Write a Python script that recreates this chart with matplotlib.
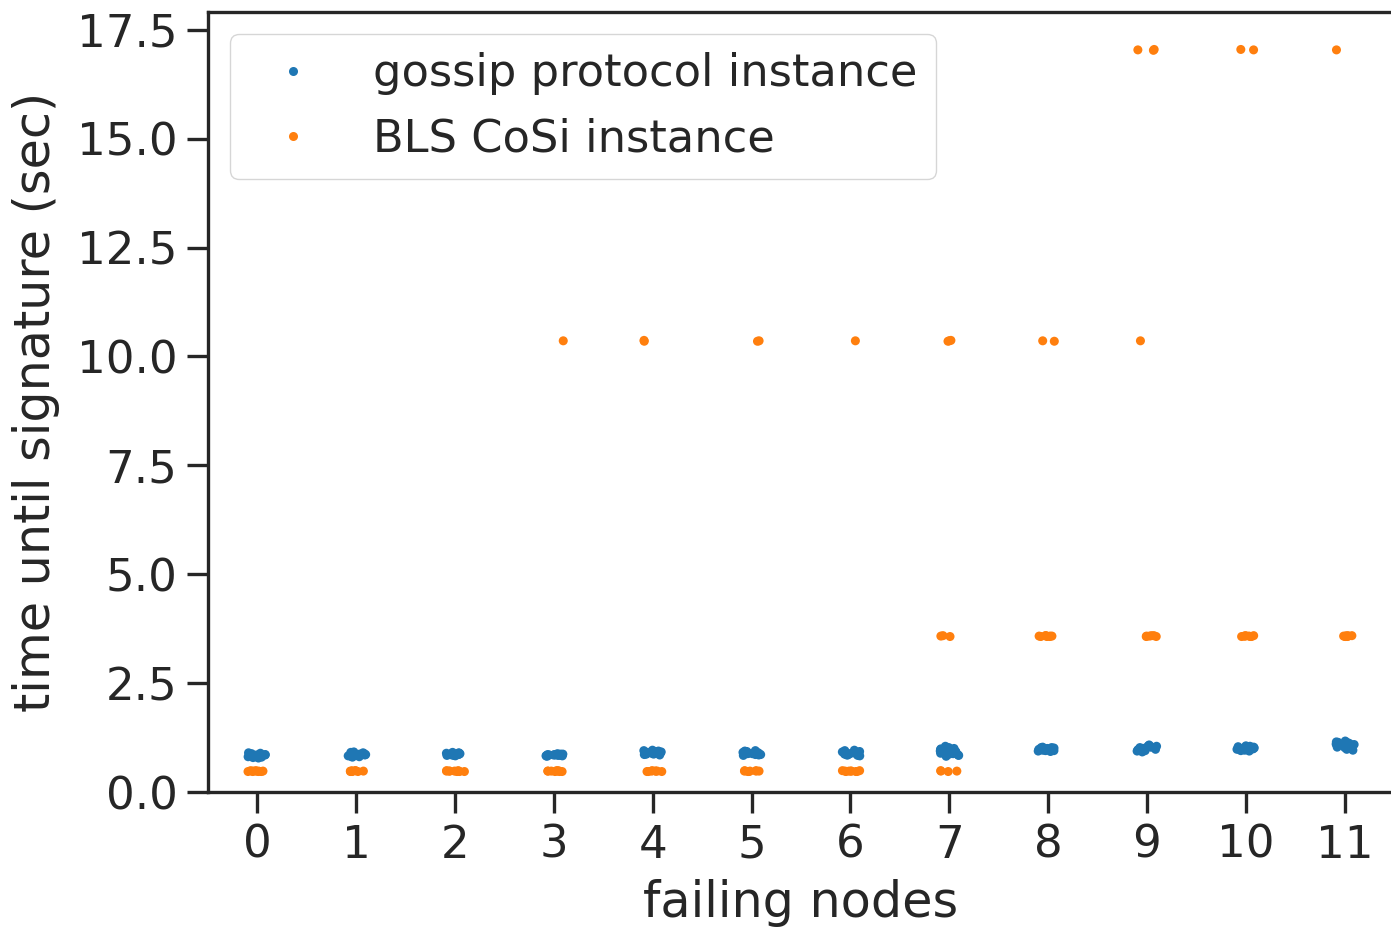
import numpy as np
import pandas as pd
import matplotlib
matplotlib.use("Agg")
import matplotlib.pyplot as plt
import seaborn as sns

# ---------------- data ----------------
failing_nodes = list(range(12))

gossip_times = [
    [0.78, 0.80, 0.82, 0.84, 0.85, 0.86, 0.87, 0.88, 0.90, 0.83, 0.81, 0.85, 0.89, 0.79, 0.86, 0.84],
    [0.80, 0.82, 0.84, 0.85, 0.86, 0.87, 0.88, 0.90, 0.92, 0.83, 0.81, 0.86, 0.89, 0.91, 0.84, 0.87],
    [0.83, 0.84, 0.85, 0.86, 0.87, 0.88, 0.89, 0.90, 0.91, 0.86, 0.85, 0.87, 0.88, 0.84, 0.89, 0.86],
    [0.82, 0.83, 0.84, 0.85, 0.86, 0.87, 0.88, 0.86, 0.84, 0.85, 0.83, 0.87, 0.86, 0.85, 0.84, 0.86],
    [0.85, 0.87, 0.88, 0.90, 0.92, 0.94, 0.96, 0.89, 0.91, 0.87, 0.86, 0.90, 0.93, 0.88, 0.91, 0.95],
    [0.84, 0.86, 0.88, 0.90, 0.92, 0.93, 0.95, 0.87, 0.89, 0.91, 0.85, 0.88, 0.90, 0.94, 0.86, 0.89],
    [0.83, 0.85, 0.87, 0.89, 0.91, 0.93, 0.96, 0.88, 0.90, 0.86, 0.84, 0.92, 0.95, 0.87, 0.89, 0.85],
    [0.82, 0.85, 0.88, 0.91, 0.94, 0.97, 1.00, 1.05, 0.90, 0.95, 0.84, 0.87, 0.93, 0.99, 1.02, 0.89],
    [0.93, 0.95, 0.97, 0.98, 1.00, 1.01, 1.02, 1.03, 0.96, 0.99, 0.94, 0.98, 1.00, 0.97, 1.02, 0.95],
    [0.92, 0.95, 0.98, 1.00, 1.02, 1.04, 1.06, 1.08, 0.97, 1.01, 0.94, 0.99, 1.03, 0.96, 1.00, 1.05],
    [0.94, 0.96, 0.98, 1.00, 1.02, 1.04, 1.06, 0.99, 1.01, 0.97, 0.95, 1.03, 1.00, 0.98, 1.05, 1.01],
    [0.96, 0.99, 1.02, 1.05, 1.08, 1.11, 1.14, 1.17, 1.03, 1.10, 0.98, 1.06, 1.13, 1.00, 1.09, 1.15],
]

bls_times = [
    [0.47, 0.48, 0.47, 0.49, 0.48, 0.47, 0.48, 0.49, 0.47, 0.48],
    [0.48, 0.47, 0.49, 0.48, 0.47, 0.48, 0.48, 0.49, 0.47, 0.48],
    [0.47, 0.48, 0.48, 0.49, 0.47, 0.48, 0.47, 0.48, 0.49, 0.48],
    [0.48, 0.47, 0.49, 0.48, 0.47, 0.48, 0.48, 0.49, 0.47, 10.36],
    [0.47, 0.48, 0.48, 0.49, 0.47, 0.48, 0.47, 0.48, 10.35, 10.37],
    [0.48, 0.47, 0.49, 0.48, 0.47, 0.48, 0.48, 0.49, 10.36, 10.35],
    [0.47, 0.48, 0.48, 0.49, 0.47, 0.48, 0.47, 0.48, 0.49, 10.36],
    [0.48, 0.47, 0.49, 0.48, 3.57, 3.58, 3.59, 10.35, 10.36, 10.37],
    [3.57, 3.58, 3.59, 3.58, 3.57, 3.59, 3.58, 3.57, 10.36, 10.35],
    [3.57, 3.58, 3.59, 3.58, 3.57, 3.59, 10.36, 17.03, 17.04, 17.05],
    [3.57, 3.58, 3.59, 3.58, 3.57, 3.59, 3.58, 3.57, 17.04, 17.05],
    [3.57, 3.58, 3.59, 3.58, 3.57, 3.59, 3.58, 3.57, 3.58, 17.04],
]

series_labels = ["gossip protocol instance", "BLS CoSi instance"]
series_colors = ["#1f77b4", "#ff7f0e"]
x_label = "failing nodes"
y_label = "time until signature (sec)"
y_ticks = [0.0, 2.5, 5.0, 7.5, 10.0, 12.5, 15.0, 17.5]

rows = []
for n, g, b in zip(failing_nodes, gossip_times, bls_times):
    rows += [(n, v, series_labels[0]) for v in g]
    rows += [(n, v, series_labels[1]) for v in b]
df = pd.DataFrame(rows, columns=["failing", "time", "protocol"])

# ---------------- style ----------------
sns.set_style("ticks")
plt.rcParams["font.family"] = ["DejaVu Sans"]
dark = "#262626"
plt.rcParams.update({
    "axes.edgecolor": dark,
    "axes.linewidth": 2.4,
    "xtick.major.width": 2.4,
    "ytick.major.width": 2.4,
    "xtick.major.size": 15,
    "ytick.major.size": 15,
    "xtick.major.pad": 8,
    "ytick.major.pad": 7,
    "xtick.color": dark,
    "ytick.color": dark,
    "text.color": dark,
    "axes.labelcolor": dark,
})

fig = plt.figure(figsize=(13.91, 9.27), dpi=100)
ax = fig.add_axes([208 / 1391, 135 / 927, (1394 - 208) / 1391, (792 - 12) / 927])

np.random.seed(3)
sns.stripplot(data=df, x="failing", y="time", hue="protocol",
              hue_order=series_labels, palette=series_colors,
              jitter=True, size=6.5, linewidth=0, ax=ax)

ax.set_ylim(0, 17.91)
ax.set_yticks(y_ticks)
ax.tick_params(axis="both", labelsize=32.5)
ax.set_xlabel(x_label, fontsize=35.5, labelpad=9)
ax.set_ylabel(y_label, fontsize=35.5, labelpad=12)

old = ax.get_legend()
handles = old.legend_handles
labels = [t.get_text() for t in old.get_texts()]
old.remove()
ax.legend(handles, labels, loc="upper left", fontsize=32.2, frameon=True,
          markerscale=1.0)

fig.savefig("out.png", dpi=100)
